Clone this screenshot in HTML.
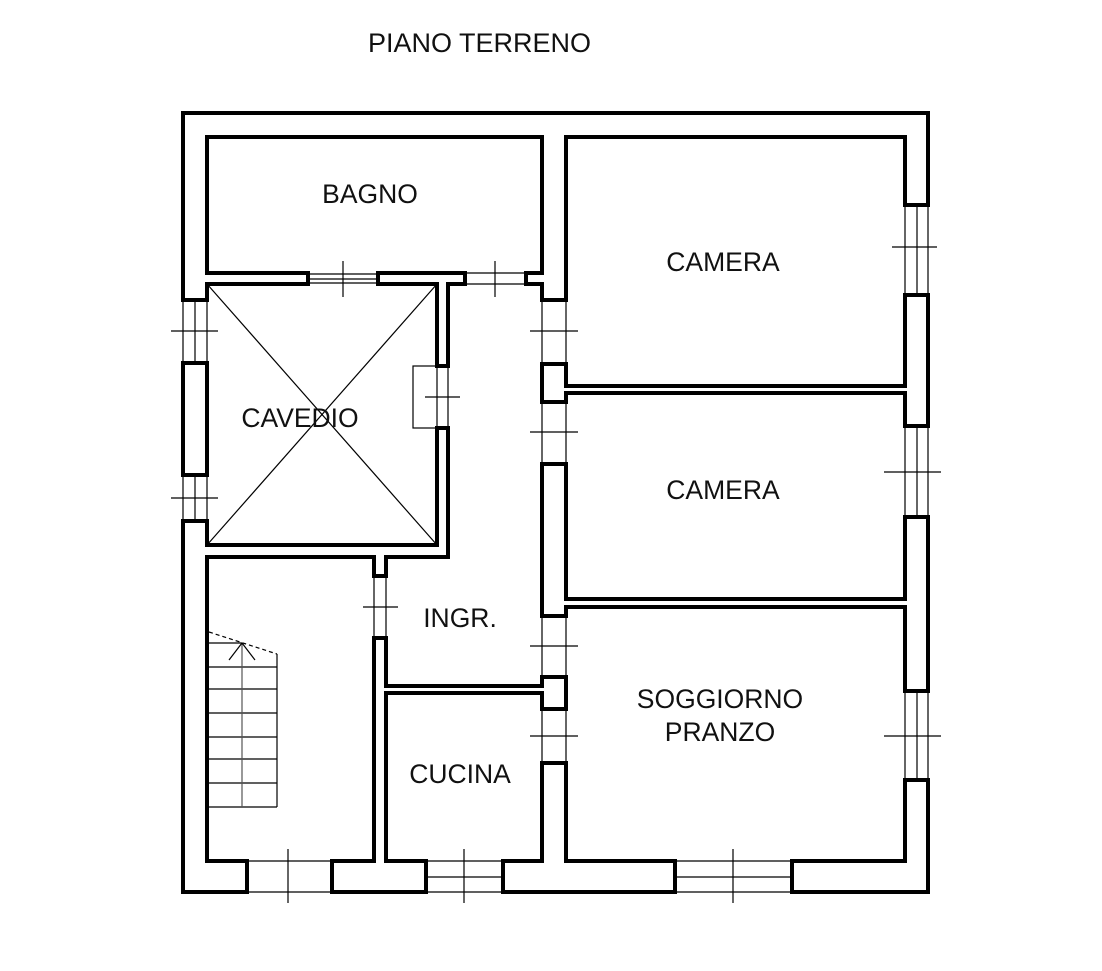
<!DOCTYPE html>
<html><head><meta charset="utf-8"><style>
html,body{margin:0;padding:0;background:#fff;}
svg{display:block;}
text{font-family:"Liberation Sans",sans-serif;fill:#111;}
</style></head><body>
<svg width="1102" height="971" viewBox="0 0 1102 971" xmlns="http://www.w3.org/2000/svg">
<rect width="1102" height="971" fill="#fff"/>
<g fill="none" stroke="#000" stroke-width="4" stroke-linejoin="miter">
<path d="M566,300 L566,137 L905,137 L905,205 L928,205 L928,113 L183,113 L183,300 L207,300 L207,284 L308,284 L308,273 L207,273 L207,137 L542,137 L542,273 L526,273 L526,284 L542,284 L542,300 Z"/>
<path d="M378,273 L465,273 L465,284 L448,284 L448,366 L437,366 L437,284 L378,284 Z"/>
<rect x="183" y="363" width="24" height="112"/>
<path d="M183,521 L207,521 L207,545 L437,545 L437,428 L448,428 L448,557 L386,557 L386,576 L374,576 L374,557 L207,557 L207,861 L247,861 L247,892 L183,892 Z"/>
<path d="M374,861 L374,638 L386,638 L386,686 L542,686 L542,677 L566,677 L566,709 L542,709 L542,693 L386,693 L386,861 L426,861 L426,892 L332,892 L332,861 Z"/>
<path d="M503,861 L542,861 L542,763 L566,763 L566,861 L675,861 L675,892 L503,892 Z"/>
<path d="M792,861 L905,861 L905,780 L928,780 L928,892 L792,892 Z"/>
<path d="M905,295 L928,295 L928,426 L905,426 L905,393 L566,393 L566,402 L542,402 L542,364 L566,364 L566,386 L905,386 Z"/>
<path d="M905,517 L928,517 L928,691 L905,691 L905,607 L566,607 L566,616 L542,616 L542,464 L566,464 L566,599 L905,599 Z"/>
</g>
<g fill="none" stroke="#000" stroke-width="1.2">
<line x1="207" y1="284" x2="437" y2="545"/>
<line x1="437" y1="284" x2="207" y2="545"/>
<line x1="308" y1="274" x2="378" y2="274"/><line x1="308" y1="279" x2="378" y2="279"/><line x1="308" y1="283" x2="378" y2="283"/>
<line x1="343" y1="261" x2="343" y2="297"/>
<line x1="465" y1="273" x2="526" y2="273"/><line x1="465" y1="284" x2="526" y2="284"/>
<line x1="495" y1="261" x2="495" y2="297"/>
<line x1="183" y1="300" x2="183" y2="363"/><line x1="195" y1="300" x2="195" y2="363"/><line x1="207" y1="300" x2="207" y2="363"/>
<line x1="171" y1="331" x2="218" y2="331"/>
<line x1="183" y1="475" x2="183" y2="521"/><line x1="195" y1="475" x2="195" y2="521"/><line x1="207" y1="475" x2="207" y2="521"/>
<line x1="171" y1="498" x2="218" y2="498"/>
<rect x="413" y="366" width="24" height="62"/>
<line x1="448" y1="366" x2="448" y2="428"/>
<line x1="425" y1="397" x2="460" y2="397"/>
<line x1="542" y1="300" x2="542" y2="364"/><line x1="566" y1="300" x2="566" y2="364"/><line x1="530" y1="331" x2="578" y2="331"/>
<line x1="542" y1="402" x2="542" y2="464"/><line x1="566" y1="402" x2="566" y2="464"/><line x1="530" y1="432" x2="578" y2="432"/>
<line x1="542" y1="616" x2="542" y2="677"/><line x1="566" y1="616" x2="566" y2="677"/><line x1="530" y1="646" x2="578" y2="646"/>
<line x1="542" y1="709" x2="542" y2="763"/><line x1="566" y1="709" x2="566" y2="763"/><line x1="530" y1="736" x2="578" y2="736"/>
<line x1="374" y1="576" x2="374" y2="638"/><line x1="386" y1="576" x2="386" y2="638"/><line x1="363" y1="607" x2="398" y2="607"/>
<line x1="905" y1="205" x2="905" y2="295"/><line x1="917" y1="205" x2="917" y2="295"/><line x1="928" y1="205" x2="928" y2="295"/><line x1="892" y1="247" x2="937" y2="247"/>
<line x1="905" y1="426" x2="905" y2="517"/><line x1="917" y1="426" x2="917" y2="517"/><line x1="928" y1="426" x2="928" y2="517"/><line x1="884" y1="472" x2="941" y2="472"/>
<line x1="905" y1="691" x2="905" y2="780"/><line x1="917" y1="691" x2="917" y2="780"/><line x1="928" y1="691" x2="928" y2="780"/><line x1="884" y1="736" x2="941" y2="736"/>
<line x1="247" y1="861" x2="332" y2="861"/><line x1="247" y1="892" x2="332" y2="892"/><line x1="288" y1="849" x2="288" y2="903"/>
<line x1="426" y1="861" x2="503" y2="861"/><line x1="426" y1="877" x2="503" y2="877"/><line x1="426" y1="892" x2="503" y2="892"/><line x1="464" y1="849" x2="464" y2="903"/>
<line x1="675" y1="861" x2="792" y2="861"/><line x1="675" y1="877" x2="792" y2="877"/><line x1="675" y1="892" x2="792" y2="892"/><line x1="733" y1="849" x2="733" y2="903"/>
<line x1="209" y1="643" x2="242" y2="643"/>
<line x1="209" y1="667" x2="277" y2="667"/>
<line x1="209" y1="689" x2="277" y2="689"/>
<line x1="209" y1="713" x2="277" y2="713"/>
<line x1="209" y1="737" x2="277" y2="737"/>
<line x1="209" y1="759" x2="277" y2="759"/>
<line x1="209" y1="783" x2="277" y2="783"/>
<line x1="209" y1="807" x2="277" y2="807"/>
<line x1="277" y1="654" x2="277" y2="807"/>
<line x1="242" y1="643" x2="242" y2="807" stroke="#555"/>
<line x1="242" y1="643" x2="229" y2="660"/><line x1="242" y1="643" x2="255" y2="660"/>
<line x1="209" y1="632" x2="277" y2="654" stroke-dasharray="4,3"/>
</g>
<text x="368" y="52" font-size="27">PIANO TERRENO</text>
<g font-size="26.5" text-anchor="middle">
<text x="370" y="203">BAGNO</text>
<text x="723" y="271">CAMERA</text>
<text x="723" y="499">CAMERA</text>
<text x="300" y="427">CAVEDIO</text>
<text x="460" y="627">INGR.</text>
<text x="460" y="783">CUCINA</text>
<text x="720" y="708">SOGGIORNO</text>
<text x="720" y="741">PRANZO</text>
</g>
</svg>
</body></html>
